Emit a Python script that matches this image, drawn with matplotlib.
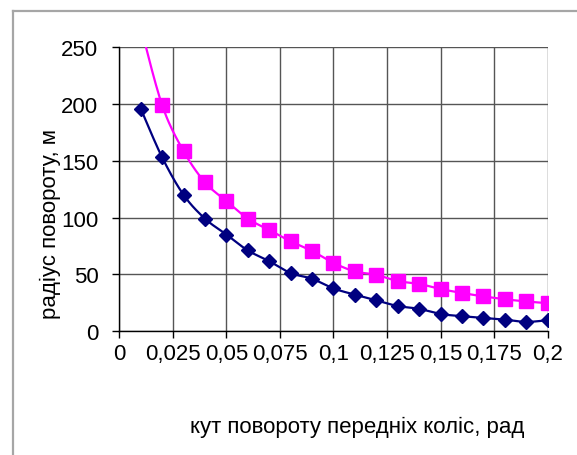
import matplotlib
matplotlib.use('Agg')
import matplotlib.pyplot as plt
from matplotlib.lines import Line2D
import numpy as np

#-- dati
angle = [0.01, 0.02, 0.03, 0.04, 0.05, 0.06, 0.07, 0.08, 0.09, 0.10,
         0.11, 0.12, 0.13, 0.14, 0.15, 0.16, 0.17, 0.18, 0.19, 0.20]
radius_1 = [196, 153, 120, 99, 85, 71, 61.5, 51, 46, 37.5,
            32, 27, 22, 19.5, 15, 13, 11.5, 10, 8, 9.5]
radius_2 = [268, 199, 158.5, 131, 114.5, 99, 89, 79, 70.5, 60,
            52.5, 49.5, 44, 41.5, 37, 33.5, 30.5, 28, 26, 24.5]
x_ticks = [0, 0.025, 0.05, 0.075, 0.1, 0.125, 0.15, 0.175, 0.2]
x_labels = ['0', '0,025', '0,05', '0,075', '0,1', '0,125', '0,15', '0,175', '0,2']
y_ticks = [0, 50, 100, 150, 200, 250]
#--

plt.rcParams['font.family'] = ['Liberation Sans', 'DejaVu Sans']


def smooth(x, y, n=20):
    # linea smussata tipo Excel (Catmull-Rom con Bezier)
    x = np.asarray(x, float); y = np.asarray(y, float)
    px = np.concatenate([[x[0]], x, [x[-1]]])
    py = np.concatenate([[y[0]], y, [y[-1]]])
    t = np.linspace(0, 1, n)
    xs = []; ys = []
    for i in range(1, len(px) - 2):
        p0 = np.array([px[i], py[i]]); p3 = np.array([px[i+1], py[i+1]])
        c1 = p0 + (np.array([px[i+1], py[i+1]]) - np.array([px[i-1], py[i-1]])) / 6
        c2 = p3 - (np.array([px[i+2], py[i+2]]) - np.array([px[i], py[i]])) / 6
        b = ((1-t)**3)[:, None]*p0 + (3*(1-t)**2*t)[:, None]*c1 + (3*(1-t)*t**2)[:, None]*c2 + (t**3)[:, None]*p3
        xs.append(b[:, 0]); ys.append(b[:, 1])
    return np.concatenate(xs), np.concatenate(ys)


fig = plt.figure(figsize=(5.77, 4.56), dpi=100)
ax = fig.add_axes([0.2068, 0.272, 0.7422, 0.622])

#-- cornice esterna (solo lati sinistro e superiore visibili)
fx = 12.5/577; fy = 1 - 11.5/456
fig.add_artist(Line2D([fx, fx], [0.0, fy], transform=fig.transFigure,
                      color='#a6a6a6', linewidth=1.6))
fig.add_artist(Line2D([fx, 1.0], [fy, fy], transform=fig.transFigure,
                      color='#a6a6a6', linewidth=1.6))
#--

sx, sy = smooth(angle, radius_2)
ax.plot(sx, sy, color='#ff00ff', linewidth=1.6, zorder=3)
ax.plot(angle, radius_2, linestyle='None', marker='s', markersize=10, color='#ff00ff', zorder=4)

sx, sy = smooth(angle, radius_1)
ax.plot(sx, sy, color='#000080', linewidth=1.6, zorder=3)
ax.plot(angle, radius_1, linestyle='None', marker='D', markersize=7.5, color='#000080', zorder=4)

ax.set_xlim(0, 0.2)
ax.set_ylim(0, 250)
ax.set_xticks(x_ticks)
ax.set_xticklabels(x_labels)
ax.set_yticks(y_ticks)
ax.grid(color='#555555', linewidth=1)
ax.set_axisbelow(True)

for s in ['top', 'right']:
    ax.spines[s].set_visible(False)
for s in ['left', 'bottom']:
    ax.spines[s].set_color('black')
    ax.spines[s].set_linewidth(1)

ax.tick_params(axis='y', direction='out', length=5, width=1, pad=10, labelsize=16, colors='black')
ax.tick_params(axis='x', direction='out', length=5, width=1, pad=4, labelsize=16, colors='black')

fig.text(0.0867, 0.509, 'радіус повороту, м', rotation=90, ha='center', va='center', fontsize=16)
fig.text(0.619, 0.062, 'кут повороту передніх коліс, рад', ha='center', va='center', fontsize=16)

fig.savefig('out.png', dpi=100)
plt.close('all')
